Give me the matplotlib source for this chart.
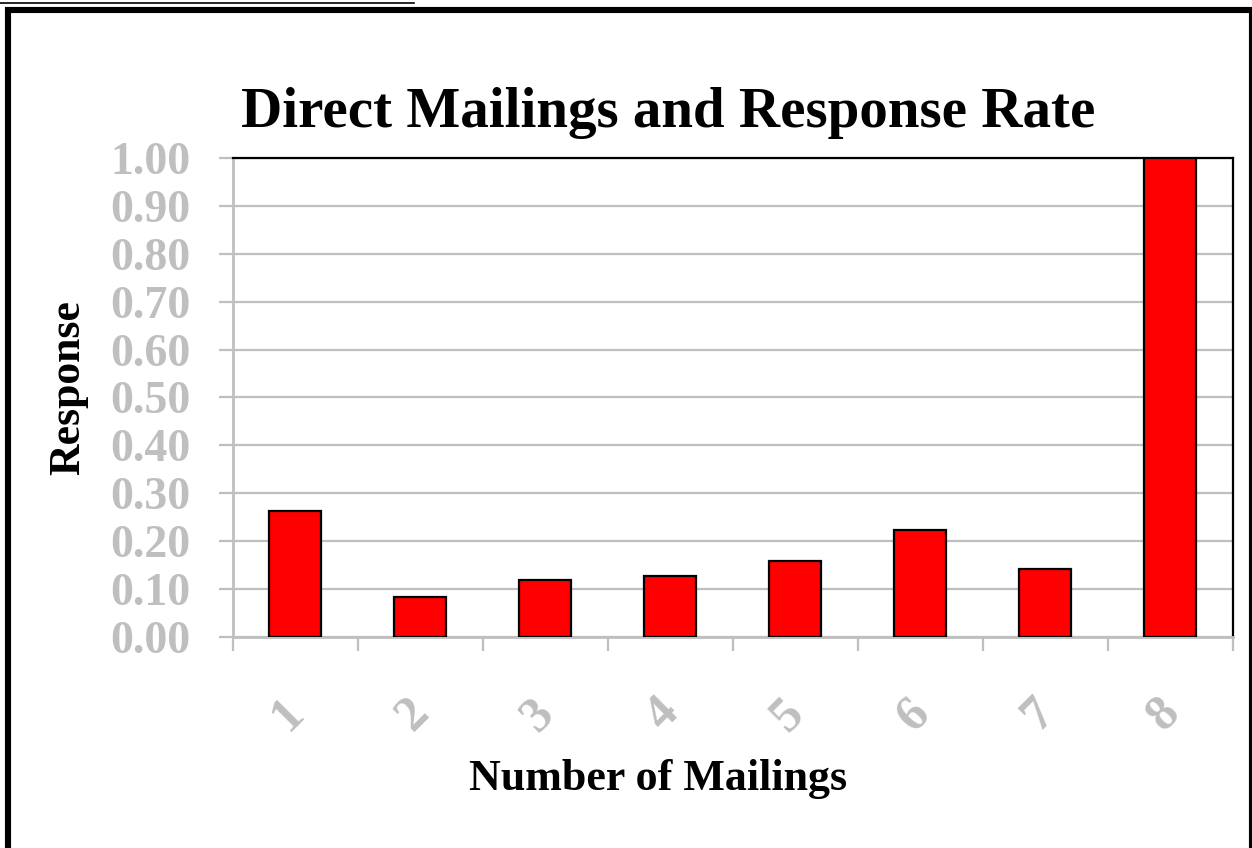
import matplotlib
matplotlib.use("Agg")
import matplotlib.pyplot as plt
from matplotlib.patches import Rectangle
from matplotlib.lines import Line2D
from matplotlib.transforms import ScaledTranslation

# Response rate by number of direct mailings
mailings = ["1", "2", "3", "4", "5", "6", "7", "8"]
response = [0.263, 0.083, 0.119, 0.127, 0.159, 0.223, 0.142, 1.00]
y_ticks = [0.0, 0.1, 0.2, 0.3, 0.4, 0.5, 0.6, 0.7, 0.8, 0.9, 1.0]

W, H, DPI = 1252, 848, 100
GRAY = "#BFBFBF"
plt.rcParams["font.family"] = ["Liberation Serif", "DejaVu Serif"]
plt.rcParams["font.weight"] = "bold"

fig = plt.figure(figsize=(W / DPI, H / DPI), dpi=DPI)
fig.patch.set_facecolor("white")

left, right, top, bottom = 232.5, 1232.5, 158, 637
ax = fig.add_axes([left / W, 1 - bottom / H, (right - left) / W, (bottom - top) / H])

x = list(range(len(mailings)))
ax.bar(x, response, width=0.41, color="#FF0000", edgecolor="black",
       linewidth=1.6, zorder=3)

ax.set_xlim(-0.5, len(mailings) - 0.5)
ax.set_ylim(0, 1.0)
ax.set_yticks(y_ticks)
ax.set_yticklabels([f"{v:.2f}" for v in y_ticks])
ax.yaxis.grid(True, color=GRAY, linewidth=1.6, zorder=0)
ax.set_axisbelow(True)

# category labels centred under bars, tick marks between categories
ax.set_xticks(x)
ax.set_xticklabels(mailings, rotation=45, ha="center", va="top")
ax.set_xticks([i - 0.5 for i in range(len(mailings) + 1)], minor=True)
ax.tick_params(axis="x", which="major", length=0, pad=38, labelsize=36,
               labelcolor=GRAY)
ax.tick_params(axis="x", which="minor", length=10, width=1.6, color=GRAY,
               direction="out")
ax.tick_params(axis="y", length=10, width=1.6, color=GRAY, pad=20,
               labelsize=33, labelcolor=GRAY)
shift = ScaledTranslation(-7 / DPI, 0, fig.dpi_scale_trans)
for lab in ax.get_xticklabels():
    lab.set_fontweight("bold")
    lab.set_transform(lab.get_transform() + shift)
for lab in ax.get_yticklabels():
    lab.set_fontweight("bold")

ax.spines["left"].set_color(GRAY)
ax.spines["left"].set_linewidth(2.0)
ax.spines["bottom"].set_color(GRAY)
ax.spines["bottom"].set_linewidth(2.0)
ax.spines["top"].set_color("black")
ax.spines["top"].set_linewidth(1.6)
ax.spines["right"].set_color("black")
ax.spines["right"].set_linewidth(1.6)

fig.text(668 / W, 1 - 127 / H, "Direct Mailings and Response Rate",
         ha="center", va="baseline", fontsize=41, fontweight="bold",
         color="black")
fig.text(658 / W, 1 - 790 / H, "Number of Mailings", ha="center",
         va="baseline", fontsize=31.7, fontweight="bold", color="black")
fig.text(68 / W, 1 - 388 / H, "Response", ha="center", va="center",
         rotation=90, fontsize=31.5, fontweight="bold", color="black")

# outer frame
fig.add_artist(Rectangle((8 / W, -20 / H), (1252 - 8) / W, (H - 10 + 20) / H,
                         transform=fig.transFigure, fill=False,
                         edgecolor="black", linewidth=4.4))
# header rule
fig.add_artist(Line2D([0, 414 / W], [1 - 3 / H, 1 - 3 / H],
                      transform=fig.transFigure, color="black", linewidth=1.2))

fig.savefig("out.png", dpi=DPI, facecolor="white")
